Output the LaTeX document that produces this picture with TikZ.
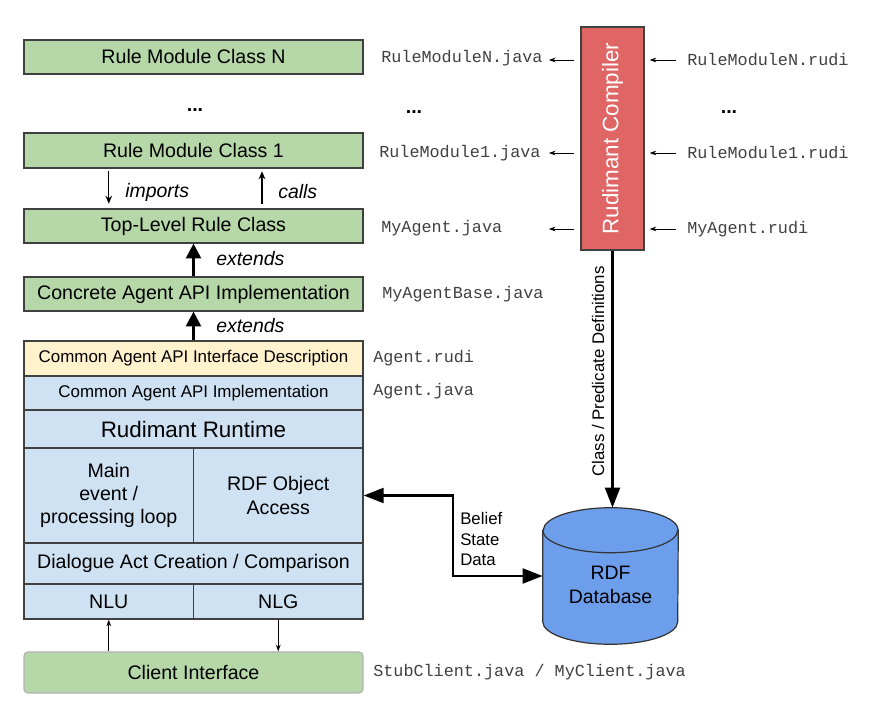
\documentclass[tikz,border=0pt]{standalone}
\usepackage{fontspec}
\setmainfont{Liberation Sans}
\setmonofont{Liberation Mono}
\usepackage{graphicx}
\usepackage{xcolor}
\usepackage{tikz}
\usetikzlibrary{arrows.meta}
\definecolor{cgreen}{HTML}{B6D7A8}
\definecolor{cyellow}{HTML}{FFF2CC}
\definecolor{cblue}{HTML}{CFE2F3}
\definecolor{cred}{HTML}{E06666}
\definecolor{cdb}{HTML}{6D9EEB}
\tikzstyle{rectblock} = [rectangle, draw=black!75, line width=0.9pt, align=center, inner sep=0pt, font=\fontsize{14.7}{17.5}\selectfont]
\tikzstyle{rulebox} = [rectblock, fill=cgreen, minimum width=254.25pt]
\tikzstyle{stackbox} = [rectblock, fill=cblue]
\tikzstyle{dbshape} = [draw=black!80, line width=0.9pt, fill=cdb]
\tikzstyle{filename} = [anchor=west, inner sep=0pt, text=black!75, font=\ttfamily\fontsize{12.6}{14}\selectfont]
\tikzstyle{dots} = [inner sep=0pt, font=\bfseries\fontsize{14.7}{16}\selectfont]
\tikzstyle{relation} = [anchor=west, inner sep=0pt, font=\itshape\fontsize{14.6}{16}\selectfont]
\tikzstyle{thinarrow} = [draw, -{Stealth[length=6pt, width=5pt]}, line width=1pt]
\tikzstyle{filearrow} = [draw, -{Stealth[length=5pt, width=3.5pt]}, line width=0.6pt]
\tikzstyle{extendarrow} = [draw, -{Triangle[length=11pt, width=11pt]}, line width=2.2pt]
\tikzstyle{bigarrow} = [draw, -{Triangle[length=15pt, width=11pt]}, line width=2.2pt]

\begin{document}
\begin{tikzpicture}[x=0.75pt, y=-0.75pt]
    \useasboundingbox (0, 0) rectangle (872, 712);

    % rule classes
    \node[rulebox, minimum height=25.5pt] at (193.5, 57) (rmN) {Rule Module Class N};
    \node[dots] at (195, 110) (dotsL) {...};
    \node[rulebox, minimum height=26.25pt] at (193.5, 150.5) (rm1) {Rule Module Class 1};
    \node[rulebox, minimum height=25.5pt] at (193.5, 226) (top) {Top-Level Rule Class};
    \node[rulebox, minimum height=25.5pt] at (193.5, 294) (conc) {Concrete Agent API Implementation};

    % runtime stack
    \node[rectblock, fill=cyellow, minimum width=254.25pt, minimum height=26.25pt, font=\fontsize{12.7}{15}\selectfont] at (193.5, 358.5) (iface) {Common Agent API Interface Description};
    \node[stackbox, minimum width=254.25pt, minimum height=25.5pt, font=\fontsize{12.7}{15}\selectfont] at (193.5, 393) (impl) {Common Agent API Implementation};
    \node[stackbox, minimum width=254.25pt, minimum height=28.5pt, font=\fontsize{16.8}{19}\selectfont] at (193.5, 429) (rt) {Rudimant Runtime};
    \node[stackbox, minimum width=127.125pt, minimum height=71.25pt] at (108.75, 495.5) (loop) {Main\\event /\\processing loop};
    \node[stackbox, minimum width=127.125pt, minimum height=71.25pt] at (278.25, 495.5) (rdfo) {RDF Object\\Access};
    \node[stackbox, minimum width=254.25pt, minimum height=30.75pt] at (193.5, 563.5) (dact) {Dialogue Act Creation / Comparison};
    \node[stackbox, minimum width=127.125pt, minimum height=26.25pt] at (108.75, 601.5) (nlu) {NLU};
    \node[stackbox, minimum width=127.125pt, minimum height=26.25pt] at (278.25, 601.5) (nlg) {NLG};
    \node[rulebox, draw=black!30, rounded corners=3pt, minimum height=30.75pt] at (193.5, 672.5) (client) {Client Interface};

    % file names
    \node[filename] at (381, 58) (rmNjava) {RuleModuleN.java};
    \node[dots] at (414, 112) (dotsM) {...};
    \node[filename] at (379, 153) (rm1java) {RuleModule1.java};
    \node[filename] at (381, 228) (myjava) {MyAgent.java};
    \node[filename] at (382, 294) (basejava) {MyAgentBase.java};
    \node[filename] at (373, 358) (agrudi) {Agent.rudi};
    \node[filename] at (373, 391) (agjava) {Agent.java};
    \node[filename] at (373, 672) (clientjava) {StubClient.java / MyClient.java};
    \node[filename] at (687, 60) (rmNrudi) {RuleModuleN.rudi};
    \node[dots] at (729, 112) (dotsR) {...};
    \node[filename] at (687, 153) (rm1rudi) {RuleModule1.rudi};
    \node[filename] at (687, 229) (myrudi) {MyAgent.rudi};

    % compiler and database
    \node[rectblock, fill=cred, minimum width=47.25pt, minimum height=167.25pt, text=white, font=\fontsize{16.8}{19}\selectfont] at (612.5, 138.5) (comp) {\rotatebox{90}{Rudimant Compiler}};
    \node[inner sep=0pt, minimum width=101.25pt, minimum height=102pt] at (610.5, 576) (db) {};
    \path[dbshape] ([yshift=-16.875pt]db.north west) -- ([yshift=16.875pt]db.south west)
        arc[start angle=180, end angle=360, x radius=50.625pt, y radius=16.875pt]
        -- ([yshift=-16.875pt]db.north east)
        arc[start angle=0, end angle=180, x radius=50.625pt, y radius=16.875pt] -- cycle;
    \draw[dbshape, fill=none] ([yshift=-16.875pt]db.north west) arc[start angle=180, end angle=360, x radius=50.625pt, y radius=16.875pt];
    \node[align=center, inner sep=0pt, font=\fontsize{14.6}{18}\selectfont] at ([yshift=-6.75pt]db.center) (dblabel) {RDF\\Database};

    % relations between classes
    \coordinate (callsx) at (262, 0);
    \path[thinarrow, shorten <=2pt, shorten >=3.5pt] (rm1.south -| loop.north) -- (top.north -| loop.north);
    \path[thinarrow, shorten <=3pt, shorten >=2pt] (top.north -| callsx) -- (rm1.south -| callsx);
    \node[relation] at (125, 192) (imports) {imports};
    \node[relation] at (278, 192) (calls) {calls};
    \path[extendarrow] (conc.north) -- (top.south);
    \path[extendarrow] (iface.north) -- (conc.south);
    \node[relation] at (216, 259) (ext1) {extends};
    \node[relation] at (216, 326) (ext2) {extends};

    % client
    \path[filearrow, line width=0.8pt] (client.north -| nlu.south) -- (nlu.south);
    \path[filearrow, line width=0.8pt] (nlg.south) -- (client.north -| nlg.south);

    % compiler in and out
    \path[filearrow, shorten <=4.5pt, shorten >=4.5pt] (comp.west |- rmNrudi.west) -- (rmNjava.east |- rmNrudi.west);
    \path[filearrow, shorten <=4.5pt, shorten >=4.5pt] (comp.west |- rm1rudi.west) -- (rmNjava.east |- rm1rudi.west);
    \path[filearrow, shorten <=4.5pt, shorten >=4.5pt] (comp.west |- myrudi.west) -- (rmNjava.east |- myrudi.west);
    \path[filearrow, shorten <=8.25pt, shorten >=3.75pt] (rmNrudi.west) -- (comp.east |- rmNrudi.west);
    \path[filearrow, shorten <=8.25pt, shorten >=3.75pt] (rm1rudi.west) -- (comp.east |- rm1rudi.west);
    \path[filearrow, shorten <=8.25pt, shorten >=3.75pt] (myrudi.west) -- (comp.east |- myrudi.west);

    \path[bigarrow] (comp.south) -- node[pos=0.47, left=5pt, inner sep=0pt, font=\fontsize{12.6}{14}\selectfont] (defs) {\rotatebox{90}{Class / Predicate Definitions}} (comp.south |- db.north);

    % belief state
    \coordinate (bend) at (453, 537);
    \path[bigarrow, {Triangle[length=15pt, width=11pt]}-{Triangle[length=15pt, width=11pt]}] (rdfo.east) -| (bend) |- (db.west);
    \node[anchor=west, align=left, inner sep=0pt, font=\fontsize{12.6}{15.4}\selectfont] at (460, 539) (belief) {Belief\\State\\Data};
\end{tikzpicture}
\end{document}
